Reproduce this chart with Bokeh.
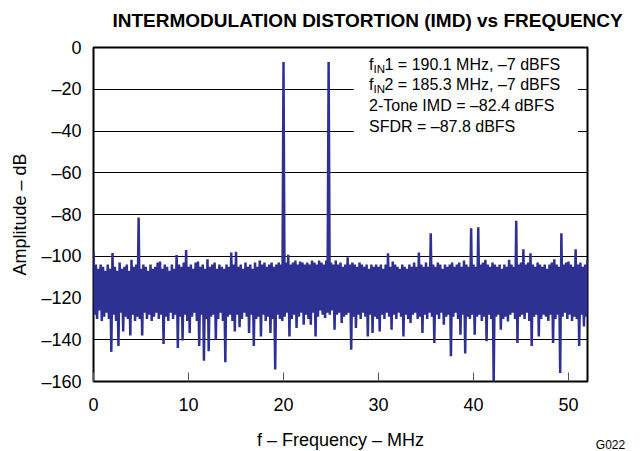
import numpy as np
from bokeh.plotting import figure
from bokeh.models import Range1d, FixedTicker, Label, BoxAnnotation
from bokeh.embed import file_html
from bokeh.resources import INLINE

# ---- data (FFT bins every 0.25 MHz) ----
bin_step = 0.25
upper_db = [
    -98, -104, -106, -104, -105, -107, -104, -106, -98.5, -105,
    -107, -103, -106, -105, -104, -107, -101.7, -105, -104, -81.5,
    -106, -104, -105, -107, -104, -106, -105, -103, -102.5, -106,
    -104, -105, -107, -104, -106, -99.4, -104, -105, -103, -97,
    -105, -104, -106, -103, -102.5, -105, -104, -106, -101.4, -105,
    -104, -103, -106, -104, -105, -106, -104, -105, -98.2, -104,
    -97.8, -105, -104, -106, -103, -105, -104, -106, -103, -105,
    -102, -104, -103, -105, -104, -103, -105, -104, -103, -104,
    -7, -103, -99.3, -104, -103, -102, -104, -102.5, -103, -104,
    -103, -104, -102, -103, -104, -102, -103, -104, -102, -7,
    -103, -104, -102, -104, -103, -105, -104, -100.5, -104, -103,
    -104, -105, -103, -104, -105, -104, -106, -104, -105, -104,
    -105, -104, -106, -104, -98.6, -105, -102.5, -104, -105, -106,
    -104, -105, -106, -104, -105, -103, -105, -98.2, -104, -105,
    -103, -105, -89, -104, -105, -103, -104, -106, -104, -105,
    -104, -103, -105, -104, -103, -105, -102, -104, -105, -86.6,
    -104, -105, -86.1, -104, -103, -101.7, -104, -105, -103, -104,
    -105, -104, -106, -104, -105, -101.7, -104, -105, -83, -104,
    -103, -96.6, -104, -103, -98.6, -104, -105, -103, -104, -105,
    -104, -106, -104, -103, -101.4, -104, -105, -89, -104, -103,
    -102.5, -104, -105, -96.6, -104, -103, -105, -104, -102,
]
lower_db = [
    -128, -130, -126, -131, -129, -127, -130, -145.8, -128, -131,
    -143, -127, -136, -129, -130, -138, -128, -131, -129, -130,
    -138, -127, -130, -128, -131, -129, -127, -130, -128, -142,
    -129, -131, -127, -130, -128, -144, -129, -140.3, -128, -131,
    -136.8, -129, -127, -131, -143, -128, -150, -130, -145.5, -129,
    -128, -140, -130, -127, -131, -150.8, -129, -128, -131, -136,
    -128, -134, -130, -127, -129, -136.8, -128, -143, -130, -129,
    -138.4, -128, -131, -129, -136.8, -130, -154.3, -128, -130, -131,
    -129, -127, -138.4, -130, -128, -134.4, -129, -127, -132.8, -128,
    -130, -132.8, -127, -138.4, -129, -126, -128, -129.6, -127, -128,
    -126, -135.2, -128, -127, -132, -129, -128, -127, -144.8, -129,
    -134.4, -128, -130, -127, -129, -138.4, -128, -136.8, -129, -130,
    -136, -128, -130, -127, -129, -135.2, -128, -130, -127, -129,
    -138.4, -128, -130, -132, -128, -127, -130, -129, -136.8, -128,
    -130, -127, -129, -141.6, -128, -130, -127, -132.8, -129, -128,
    -147.9, -129, -127, -130, -137.6, -128, -146.6, -129, -130, -128,
    -137.6, -129, -128, -131, -129, -140.7, -128, -130, -161, -129,
    -128, -135.2, -130, -129, -131.2, -128, -127, -130, -141.6, -129,
    -128, -130, -127, -131, -143, -129, -128, -138.4, -130, -128,
    -129, -131, -128, -141.6, -130, -128, -155.9, -129, -127, -130,
    -128, -131, -129, -130, -143, -128, -133.6, -129, -127,
]
x_ticks = [0, 10, 20, 30, 40, 50]
y_ticks = [0, -20, -40, -60, -80, -100, -120, -140, -160]
y_tick_labels = ["0", "–20", "–40", "–60", "–80", "–100", "–120", "–140", "–160"]
info_lines = ["1 = 190.1 MHz, –7 dBFS", "2 = 185.3 MHz, –7 dBFS",
              "2-Tone IMD = –82.4 dBFS", "SFDR = –87.8 dBFS"]
title_text = "INTERMODULATION DISTORTION (IMD) vs FREQUENCY"

freq = np.arange(len(upper_db)) * bin_step
xs, ys = [], []
for f, u, l in zip(freq, upper_db, lower_db):
    xs += [f, f + bin_step / 2]
    ys += [u, l]

FONT = "Liberation Sans"
BLUE = "#2E3192"

p = figure(frame_width=494, frame_height=334,
           x_range=Range1d(0, 52), y_range=Range1d(-160, 0),
           output_backend="svg", toolbar_location=None,
           min_border_left=93, min_border_right=49,
           min_border_top=47, min_border_bottom=70)
p.title.visible = False

p.outline_line_color = "black"
p.outline_line_width = 2

p.xaxis.ticker = FixedTicker(ticks=x_ticks)
p.yaxis.ticker = FixedTicker(ticks=y_ticks)
p.yaxis.major_label_overrides = {t: s for t, s in zip(y_ticks, y_tick_labels)}
for ax in (p.xaxis, p.yaxis):
    ax.axis_line_color = None
    ax.minor_tick_line_color = None
    ax.major_label_text_font = FONT
    ax.major_label_text_font_size = "18px"
    ax.major_label_text_color = "black"
    ax.axis_label_text_font = FONT
    ax.axis_label_text_font_size = "18px"
    ax.axis_label_text_font_style = "normal"
    ax.axis_label_text_color = "black"
p.xaxis.major_tick_in = 9
p.xaxis.major_tick_out = 0
p.xaxis.major_tick_line_color = "#555555"
p.xaxis.major_label_standoff = 16
p.xaxis.axis_label = "f – Frequency – MHz"
p.xaxis.axis_label_standoff = 16
p.yaxis.major_tick_in = 0
p.yaxis.major_tick_out = 0
p.yaxis.major_label_standoff = 12
p.yaxis.axis_label = "Amplitude – dB"
p.yaxis.axis_label_standoff = 8

p.xgrid.visible = False
p.ygrid.ticker = FixedTicker(ticks=y_ticks)
p.ygrid.grid_line_color = "black"
p.ygrid.grid_line_width = 1.2

p.line(xs, ys, line_color=BLUE, line_width=2.5)

p.add_layout(BoxAnnotation(left=27.4, right=51.0, top=-2.5, bottom=-44.5,
                           fill_color="white", fill_alpha=1.0, line_color=None))

px_per_mhz = 494 / 52.0
px_per_db = 334 / 160.0
x0 = (368.5 - 93) / px_per_mhz
line_y = [64, 84, 105, 126]
FS = "16px"
for k, (txt, yc) in enumerate(zip(info_lines, line_y)):
    yv = -(yc - 47) / px_per_db
    if k < 2:
        p.add_layout(Label(x=x0, y=yv, text="f", text_font=FONT, text_font_size=FS,
                           text_baseline="middle", text_color="black"))
        p.add_layout(Label(x=x0 + 4.5 / px_per_mhz, y=yv - 4 / px_per_db, text="IN",
                           text_font=FONT, text_font_size="11.5px",
                           text_baseline="middle", text_color="black"))
        p.add_layout(Label(x=x0 + 15.5 / px_per_mhz, y=yv, text=txt, text_font=FONT,
                           text_font_size=FS, text_baseline="middle", text_color="black"))
    else:
        p.add_layout(Label(x=x0, y=yv, text=txt, text_font=FONT, text_font_size=FS,
                           text_baseline="middle", text_color="black"))

# title, placed in the top panel (screen units relative to that panel)
p.add_layout(Label(x=19, y=27, x_units="screen", y_units="screen",
                   text=title_text, text_font=FONT, text_font_size="19px",
                   text_font_style="bold", text_align="left",
                   text_baseline="middle", text_color="black"),
             "above")

# figure code, placed in the bottom panel so that it is not clipped to the frame
p.add_layout(Label(x=517, y=22, x_units="screen", y_units="screen",
                   text="G022", text_font=FONT, text_font_size="12px",
                   text_align="center", text_baseline="middle", text_color="black"),
             "below")

open("out.html", "w").write(file_html(p, INLINE))
